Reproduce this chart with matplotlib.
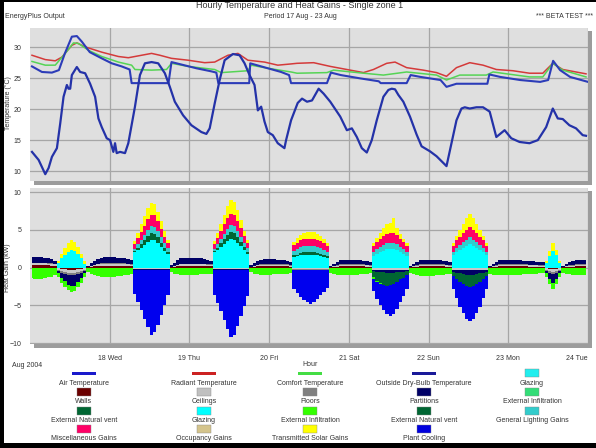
import numpy as np
import matplotlib
matplotlib.use("Agg")
import matplotlib.pyplot as plt
from matplotlib.patches import Rectangle

plt.rcParams['font.family'] = ['Liberation Sans', 'DejaVu Sans']

# ---------------- data: top panel (hour of week, value) ----------------
air_temp = [(0.6,26.9),(3.6,26.0),(6.6,25.9),(8.7,26.3),(10.5,29.0),(12.6,31.7),(14.1,31.8),(15.6,30.9),
            (18.0,29.2),(21.6,28.2),(24.6,27.4),(27.6,26.9),(30.0,26.4),(30.6,24.2),(41.7,24.2),(42.6,27.6),
            (45.6,27.2),(50.1,26.6),(54.6,26.1),(56.1,25.9),(56.7,24.2),(66.0,24.2),(66.3,27.4),(69.6,26.9),
            (75.6,26.0),(78.0,25.5),(78.6,24.2),(89.4,24.2),(90.6,25.9),(93.6,25.5),(99.6,24.95),(105.0,24.5),
            (105.6,24.2),(113.4,24.2),(114.6,25.5),(117.6,25.2),(123.6,24.7),(125.4,23.6),(128.4,24.1),
            (137.7,24.1),(138.3,25.6),(141.6,25.2),(147.6,24.7),(153.6,24.4),(156.0,24.7),(157.5,27.8),
            (159.6,26.3),(162.6,25.2),(168.0,24.4)]
radiant_temp = [(0.6,28.7),(4.6,28.0),(7.6,27.8),(9.6,28.4),(12.6,30.3),(14.1,30.7),(16.6,30.05),(21.6,29.2),
                (26.6,28.5),(29.6,28.3),(33.6,28.7),(36.6,29.0),(39.1,28.7),(42.6,28.2),(47.6,27.9),(52.6,27.5),
                (55.6,27.6),(59.6,28.7),(62.6,29.0),(65.6,27.9),(70.6,27.6),(74.6,27.1),(78.6,27.3),(80.4,27.4),
                (85.4,27.5),(90.4,26.9),(95.4,26.4),(100.4,25.9),(103.4,26.4),(107.4,27.4),(109.9,27.6),
                (113.4,26.7),(118.4,26.3),(122.4,25.9),(125.4,25.3),(128.4,26.7),(132.4,27.5),(136.4,27.1),
                (140.4,26.4),(145.4,26.2),(150.4,25.8),(154.4,25.8),(157.4,27.4),(160.4,26.4),(167.4,25.7)]
comfort_temp = [(0.6,27.7),(4.6,27.1),(7.6,27.1),(10.6,29.0),(13.1,30.7),(14.6,30.6),(17.6,29.5),(21.6,28.5),
                (26.6,27.6),(30.6,27.1),(31.6,26.4),(36.6,26.3),(41.1,26.4),(42.6,27.4),(47.6,26.9),(55.6,26.4),
                (57.6,25.9),(65.6,26.2),(66.6,27.1),(71.6,26.6),(78.6,26.0),(80.4,25.8),(89.4,25.9),(91.4,26.3),
                (100.4,25.8),(106.4,25.5),(113.4,26.0),(122.4,25.5),(125.4,24.7),(129.4,25.5),(137.4,25.5),
                (139.4,26.0),(150.4,25.2),(154.4,25.2),(157.4,27.4),(160.4,26.3),(167.4,25.2)]
outdoor_temp = [(0.6,13.1),(2.6,11.8),(4.6,9.5),(5.6,10.5),(6.6,12.3),(8.1,13.7),(9.1,17.7),(10.1,22.0),
                (11.1,23.9),(11.6,23.3),(12.1,23.3),(12.6,25.5),(14.1,26.8),(15.1,26.0),(16.6,25.8),(18.1,24.1),
                (19.6,22.0),(20.6,18.5),(21.6,17.1),(23.1,15.3),(24.1,15.0),(25.1,13.1),(25.6,14.5),(26.1,12.9),
                (27.1,13.1),(28.6,12.9),(29.6,14.5),(31.6,20.4),(33.1,25.5),(34.6,27.4),(36.6,27.6),(38.6,27.4),
                (40.6,25.8),(42.1,23.6),(43.6,21.2),(46.1,19.0),(48.6,17.4),(51.6,16.3),(53.1,16.0),(54.1,16.9),
                (55.6,20.9),(57.1,24.7),(58.6,27.9),(61.1,28.9),(63.1,28.7),(64.6,27.4),(66.1,25.5),(67.6,23.9),
                (68.6,19.8),(69.6,20.4),(70.6,18.0),(71.6,16.3),(73.1,15.8),(74.6,14.5),(76.6,13.7),(77.1,15.0),
                (78.6,18.2),(80.6,21.0),(81.9,21.7),(83.4,21.2),(84.9,21.4),(86.9,23.3),(88.4,22.5),(90.4,21.2),
                (93.4,18.8),(95.4,16.6),(96.9,16.9),(98.4,15.5),(99.9,13.7),(101.4,13.0),(102.9,15.0),(104.4,18.2),
                (106.4,22.0),(107.9,23.1),(108.9,23.3),(109.9,23.2),(110.9,22.3),(112.4,21.2),(114.4,18.8),
                (116.4,15.9),(117.9,14.0),(120.4,13.2),(122.4,12.4),(125.4,10.8),(126.9,14.5),(128.4,18.2),
                (129.9,20.1),(130.9,20.3),(132.4,20.1),(134.4,20.3),(136.4,20.3),(138.4,19.6),(140.4,15.5),
                (142.9,16.6),(144.9,15.3),(147.4,14.7),(150.4,14.5),(152.9,15.0),(155.4,17.1),(157.4,20.1),
                (158.9,18.5),(160.4,18.4),(162.4,17.4),(164.4,16.9),(166.4,15.8),(167.4,15.7)]

# ---------------- data: bottom panel, hourly kW, one row per day (17..23 Aug) ----------------
walls = [
 [0.30,0.30,0.30,0.30,0.30,0.28,0.25,0.20,-0.10,-0.20,-0.25,-0.30,-0.30,-0.30,-0.25,-0.20,-0.10,0.05,0.10,0.15,0.20,0.25,0.25,0.25],
 [0.25,0.25,0.25,0.25,0.22,0.20,0.18,0,0,0,0,0,0,0,0,0,0,0,0.05,0.10,0.15,0.20,0.20,0.20],
 [0.20,0.20,0.20,0.20,0.20,0.18,0.15,0,0,0,0,0,0,0,0,0,0,0,0.05,0.10,0.15,0.18,0.18,0.18],
 [0.18,0.18,0.18,0.18,0.15,0.15,0.12,0,0,0,0,0,0,0,0,0,0,0,0.05,0.08,0.12,0.15,0.15,0.15],
 [0.15,0.15,0.15,0.15,0.15,0.12,0.12,0,0,0,0,0,0,0,0,0,0,0,0.05,0.08,0.12,0.15,0.15,0.15],
 [0.15,0.15,0.15,0.15,0.15,0.12,0.12,0,0,0,0,0,0,0,0,0,0,0,0.05,0.08,0.12,0.15,0.15,0.15],
 [0.15,0.15,0.15,0.15,0.15,0.15,0.12,0.12,0.12,0.10,0.08,-0.10,-0.20,-0.25,-0.20,-0.10,0.05,0.08,0.10,0.12,0.15,0.15,0.15,0.15]]
ceilings = [
 [0.25,0.25,0.25,0.25,0.25,0.25,0.22,0.20,-0.20,-0.30,-0.35,-0.40,-0.40,-0.40,-0.35,-0.30,-0.20,0.05,0.10,0.15,0.20,0.25,0.25,0.25],
 [0.25,0.25,0.25,0.25,0.25,0.22,0.20,-0.15,-0.15,-0.15,-0.15,-0.15,-0.15,-0.15,-0.15,-0.15,-0.15,-0.15,0.05,0.10,0.15,0.20,0.20,0.20],
 [0.20,0.20,0.20,0.20,0.20,0.18,0.15,-0.15,-0.15,-0.15,-0.15,-0.15,-0.15,-0.15,-0.15,-0.15,-0.15,-0.15,0.05,0.10,0.15,0.18,0.18,0.18],
 [0.15,0.15,0.15,0.15,0.15,0.15,0.12,-0.20,-0.20,-0.20,-0.20,-0.20,-0.20,-0.20,-0.20,-0.20,-0.20,-0.20,0.05,0.08,0.12,0.15,0.15,0.15],
 [0.15,0.15,0.15,0.15,0.15,0.15,0.12,-0.30,-0.30,-0.30,-0.30,-0.30,-0.30,-0.30,-0.30,-0.30,-0.30,-0.30,0.05,0.08,0.12,0.15,0.15,0.15],
 [0.15,0.15,0.15,0.15,0.15,0.15,0.12,-0.30,-0.30,-0.30,-0.30,-0.30,-0.30,-0.30,-0.30,-0.30,-0.30,-0.30,0.05,0.08,0.12,0.15,0.15,0.15],
 [0.15,0.15,0.15,0.15,0.15,0.15,0.15,0.15,0.15,0.15,0.15,-0.20,-0.30,-0.35,-0.30,-0.20,0.05,0.08,0.10,0.12,0.15,0.15,0.15,0.15]]
floors = [
 [0.10,0.10,0.10,0.10,0.10,0.10,0.10,0.10,-0.10,-0.20,-0.25,-0.30,-0.30,-0.30,-0.25,-0.20,-0.10,0.02,0.05,0.08,0.10,0.10,0.10,0.10],
 [0.10,0.10,0.10,0.10,0.10,0.10,0.10,-0.08,-0.08,-0.08,-0.08,-0.08,-0.08,-0.08,-0.08,-0.08,-0.08,-0.08,0.02,0.05,0.08,0.10,0.10,0.10],
 [0.10,0.10,0.10,0.10,0.10,0.10,0.10,-0.08,-0.08,-0.08,-0.08,-0.08,-0.08,-0.08,-0.08,-0.08,-0.08,-0.08,0.02,0.05,0.08,0.10,0.10,0.10],
 [0.10,0.10,0.10,0.10,0.10,0.10,0.10,-0.08,-0.08,-0.08,-0.08,-0.08,-0.08,-0.08,-0.08,-0.08,-0.08,-0.08,0.02,0.05,0.08,0.10,0.10,0.10],
 [0.10,0.10,0.10,0.10,0.10,0.10,0.10,-0.08,-0.08,-0.08,-0.08,-0.08,-0.08,-0.08,-0.08,-0.08,-0.08,-0.08,0.02,0.05,0.08,0.10,0.10,0.10],
 [0.10,0.10,0.10,0.10,0.10,0.10,0.10,-0.08,-0.08,-0.08,-0.08,-0.08,-0.08,-0.08,-0.08,-0.08,-0.08,-0.08,0.02,0.05,0.08,0.10,0.10,0.10],
 [0.10,0.10,0.10,0.10,0.10,0.10,0.10,0.10,0.10,0.10,0.10,-0.10,-0.20,-0.25,-0.20,-0.10,0.02,0.05,0.08,0.10,0.10,0.10,0.10,0.10]]
partitions = [
 [0.75,0.75,0.72,0.70,0.65,0.60,0.50,0.35,-0.30,-0.70,-1.00,-1.30,-1.50,-1.40,-1.10,-0.70,-0.30,0.10,0.30,0.45,0.60,0.70,0.75,0.75],
 [0.75,0.75,0.72,0.70,0.65,0.60,0.50,-0.05,-0.05,-0.05,-0.05,-0.05,-0.05,-0.05,-0.05,-0.05,-0.05,-0.05,0.15,0.35,0.55,0.70,0.75,0.75],
 [0.75,0.75,0.72,0.70,0.65,0.60,0.50,-0.05,-0.05,-0.05,-0.05,-0.05,-0.05,-0.05,-0.05,-0.05,-0.05,-0.05,0.15,0.35,0.50,0.60,0.65,0.65],
 [0.65,0.65,0.62,0.60,0.55,0.50,0.40,-0.10,-0.10,-0.10,-0.10,-0.10,-0.10,-0.10,-0.10,-0.10,-0.10,-0.10,0.10,0.30,0.45,0.55,0.60,0.60],
 [0.60,0.60,0.58,0.55,0.50,0.45,0.40,-0.10,-0.15,-0.20,-0.25,-0.30,-0.30,-0.30,-0.25,-0.20,-0.15,-0.10,0.10,0.30,0.45,0.55,0.60,0.60],
 [0.60,0.60,0.58,0.55,0.50,0.45,0.40,-0.20,-0.30,-0.40,-0.50,-0.60,-0.60,-0.60,-0.50,-0.40,-0.30,-0.20,0.10,0.30,0.45,0.55,0.60,0.60],
 [0.60,0.60,0.58,0.55,0.50,0.50,0.45,0.45,0.40,0.40,0.35,-0.30,-0.80,-1.20,-0.80,-0.30,0.10,0.30,0.45,0.55,0.60,0.60,0.60,0.60]]
glazing = [
 [0,0,0,0,0,0,0,0,0.6,1.2,1.7,2.1,2.3,2.2,1.8,1.2,0.5,0,0,0,0,0,0,0],
 [0,0,0,0,0,0,0,2.0,2.3,2.6,3.0,3.4,3.7,3.6,3.2,2.7,2.2,1.8,0,0,0,0,0,0],
 [0,0,0,0,0,0,0,2.0,2.3,2.7,3.1,3.5,3.8,3.7,3.3,2.8,2.3,1.8,0,0,0,0,0,0],
 [0,0,0,0,0,0,0,1.4,1.5,1.6,1.7,1.7,1.7,1.7,1.6,1.5,1.4,1.3,0,0,0,0,0,0],
 [0,0,0,0,0,0,0,1.5,1.8,2.0,2.2,2.4,2.5,2.5,2.3,2.0,1.8,1.5,0,0,0,0,0,0],
 [0,0,0,0,0,0,0,1.6,2.0,2.3,2.6,2.9,3.1,2.9,2.6,2.3,2.0,1.6,0,0,0,0,0,0],
 [0,0,0,0,0,0,0,0,0,0,0,0.6,1.5,2.2,1.6,0.6,0,0,0,0,0,0,0,0]]
natural_vent = [
 [0,0,0,0,0,0,0,0,0,0,0,0,0,0,0,0,0,0,0,0,0,0,0,0],
 [0,0,0,0,0,0,0,0.2,0.3,0.5,0.6,0.8,0.9,0.9,0.8,0.6,0.4,0.3,0,0,0,0,0,0],
 [0,0,0,0,0,0,0,0.2,0.3,0.5,0.7,0.8,0.9,0.9,0.8,0.6,0.4,0.3,0,0,0,0,0,0],
 [0,0,0,0,0,0,0,0.2,0.2,0.3,0.3,0.3,0.3,0.3,0.3,0.3,0.2,0.2,0,0,0,0,0,0],
 [0,0,0,0,0,0,0,-0.8,-1.2,-1.5,-1.7,-1.8,-1.7,-1.5,-1.3,-1.0,-0.8,-0.5,0,0,0,0,0,0],
 [0,0,0,0,0,0,0,-0.5,-0.8,-1.1,-1.3,-1.5,-1.6,-1.5,-1.3,-1.1,-0.8,-0.5,0,0,0,0,0,0],
 [0,0,0,0,0,0,0,0,0,0,0,0,0,0,0,0,0,0,0,0,0,0,0,0]]
lighting = [
 [0,0,0,0,0,0,0,0,0,0,0,0,0,0,0,0,0,0,0,0,0,0,0,0],
 [0,0,0,0,0,0,0,0.3,0.5,0.6,0.7,0.8,0.9,0.9,0.8,0.7,0.6,0.5,0,0,0,0,0,0],
 [0,0,0,0,0,0,0,0.3,0.5,0.6,0.7,0.8,0.9,0.9,0.8,0.7,0.6,0.5,0,0,0,0,0,0],
 [0,0,0,0,0,0,0,0.6,0.7,0.8,0.8,0.8,0.8,0.8,0.8,0.8,0.7,0.6,0,0,0,0,0,0],
 [0,0,0,0,0,0,0,0.5,0.6,0.7,0.8,0.8,0.8,0.8,0.8,0.7,0.6,0.5,0,0,0,0,0,0],
 [0,0,0,0,0,0,0,0.5,0.6,0.7,0.8,0.8,0.9,0.8,0.8,0.7,0.6,0.5,0,0,0,0,0,0],
 [0,0,0,0,0,0,0,0,0,0,0,0,0,0,0,0,0,0,0,0,0,0,0,0]]
misc_gains = [
 [0,0,0,0,0,0,0,0,0,0,0,0,0,0,0,0,0,0,0,0,0,0,0,0],
 [0,0,0,0,0,0,0,0.6,0.8,1.0,1.2,1.4,1.5,1.5,1.3,1.1,0.9,0.7,0,0,0,0,0,0],
 [0,0,0,0,0,0,0,0.6,0.8,1.0,1.2,1.4,1.5,1.5,1.3,1.1,0.9,0.7,0,0,0,0,0,0],
 [0,0,0,0,0,0,0,0.8,0.9,0.9,1.0,1.0,1.0,1.0,1.0,0.9,0.9,0.8,0,0,0,0,0,0],
 [0,0,0,0,0,0,0,0.9,1.0,1.1,1.2,1.3,1.3,1.3,1.2,1.1,1.0,0.9,0,0,0,0,0,0],
 [0,0,0,0,0,0,0,0.8,1.0,1.1,1.2,1.3,1.4,1.3,1.2,1.1,1.0,0.8,0,0,0,0,0,0],
 [0,0,0,0,0,0,0,0,0,0,0,0,0,0,0,0,0,0,0,0,0,0,0,0]]
solar = [
 [0,0,0,0,0,0,0,0,0.3,0.6,0.9,1.1,1.3,1.2,0.9,0.6,0.3,0,0,0,0,0,0,0],
 [0,0,0,0,0,0,0,0.4,0.7,1.0,1.3,1.5,1.6,1.5,1.3,1.0,0.7,0.4,0,0,0,0,0,0],
 [0,0,0,0,0,0,0,0.4,0.7,1.0,1.3,1.6,1.8,1.7,1.4,1.1,0.7,0.4,0,0,0,0,0,0],
 [0,0,0,0,0,0,0,0.4,0.6,0.7,0.8,0.9,0.9,0.9,0.8,0.7,0.6,0.4,0,0,0,0,0,0],
 [0,0,0,0,0,0,0,0.3,0.5,0.8,1.0,1.2,1.3,2.0,0.9,0.6,0.4,0.3,0,0,0,0,0,0],
 [0,0,0,0,0,0,0,0.4,0.6,0.9,1.2,1.5,1.7,1.5,1.2,0.9,0.6,0.4,0,0,0,0,0,0],
 [0,0,0,0,0,0,0,0,0,0,0,0.3,0.7,1.1,0.7,0.3,0,0,0,0,0,0,0,0]]
infiltration = [
 [-1.4,-1.5,-1.5,-1.5,-1.4,-1.3,-1.2,-1.0,-0.5,-0.6,-0.7,-0.7,-0.7,-0.7,-0.6,-0.6,-0.5,-0.6,-0.8,-1.0,-1.1,-1.2,-1.2,-1.2],
 [-1.2,-1.2,-1.1,-1.1,-1.0,-1.0,-0.9,0,0,0,0,0,0,0,0,0,0,0,-0.6,-0.8,-0.9,-1.0,-1.0,-1.0],
 [-1.0,-1.0,-1.0,-0.9,-0.9,-0.9,-0.8,0,0,0,0,0,0,0,0,0,0,0,-0.6,-0.8,-0.9,-1.0,-1.0,-1.0],
 [-1.0,-0.9,-0.9,-0.9,-0.8,-0.8,-0.7,0,0,0,0,0,0,0,0,0,0,0,-0.7,-0.9,-1.0,-1.0,-1.0,-1.0],
 [-1.0,-1.0,-1.0,-0.9,-0.9,-0.8,-0.7,-0.3,-0.2,-0.1,0,0,0,0,0,0,0,0,-0.7,-0.9,-1.0,-1.1,-1.1,-1.1],
 [-1.1,-1.1,-1.0,-1.0,-1.0,-0.9,-0.8,0,0,0,0,0,0,0,0,0,0,0,-0.8,-1.0,-1.0,-1.0,-1.0,-1.0],
 [-1.0,-1.0,-1.0,-1.0,-0.9,-0.9,-0.9,-0.8,-0.8,-0.7,-0.7,-0.6,-0.7,-0.8,-0.7,-0.6,-0.7,-0.8,-0.9,-1.0,-1.0,-1.0,-1.0,-1.0]]
plant_cooling = [
 [0,0,0,0,0,0,0,0,0,0,0,0,0,0,0,0,0,0,0,0,0,0,0,0],
 [0,0,0,0,0,0,0,-3.2,-4.3,-5.4,-6.5,-7.6,-8.6,-8.3,-7.3,-6.0,-4.7,-3.4,0,0,0,0,0,0],
 [0,0,0,0,0,0,0,-3.3,-4.4,-5.5,-6.7,-7.8,-8.9,-8.6,-7.5,-6.2,-4.8,-3.5,0,0,0,0,0,0],
 [0,0,0,0,0,0,0,-2.5,-3.0,-3.5,-3.9,-4.2,-4.4,-4.2,-3.8,-3.3,-2.8,-2.3,0,0,0,0,0,0],
 [0,0,0,0,0,0,0,-1.5,-2.2,-2.8,-3.3,-3.7,-4.0,-4.0,-3.6,-3.0,-2.5,-1.8,0,0,0,0,0,0],
 [0,0,0,0,0,0,0,-1.8,-2.6,-3.3,-3.9,-4.3,-4.5,-4.3,-3.9,-3.3,-2.6,-1.8,0,0,0,0,0,0],
 [0,0,0,0,0,0,0,0,0,0,0,0,0,0,0,0,0,0,0,0,0,0,0,0]]

day_labels = ["18 Wed", "19 Thu", "20 Fri", "21 Sat", "22 Sun", "23 Mon", "24 Tue"]
temp_ticks = [10, 15, 20, 25, 30]
gain_ticks = [-10, -5, 0, 5, 10]

# ---------------- figure ----------------
W, H = 596, 448
fig = plt.figure(figsize=(W / 100, H / 100), dpi=100, facecolor='white')

def fx(px):
    return px / W

def fy(py):
    return 1 - py / H

TXT = '#333333'
BG = '#dfdfdf'
GRID = '#a6a6a6'
SHADOW = '#9c9c9c'

ax1 = fig.add_axes([fx(30), fy(181), fx(588) - fx(30), fy(28) - fy(181)])
ax2 = fig.add_axes([fx(30), fy(344), fx(588) - fx(30), fy(188) - fy(344)])

# 3-D shadow bars
for top, bot in [(31, 181), (191, 344)]:
    fig.add_artist(Rectangle((fx(34), fy(bot + 4)), fx(592) - fx(34), fy(bot) - fy(bot + 4),
                             transform=fig.transFigure, color=SHADOW, lw=0))
    fig.add_artist(Rectangle((fx(588), fy(bot + 4)), fx(592) - fx(588), fy(top) - fy(bot + 4),
                             transform=fig.transFigure, color=SHADOW, lw=0))

for ax in (ax1, ax2):
    ax.set_facecolor(BG)
    for s in ax.spines.values():
        s.set_visible(False)
    ax.set_axisbelow(True)
    ax.set_xlim(0, 7)
    ax.set_xticks(range(1, 8))
    ax.grid(True, color=GRID, lw=0.9)
    ax.tick_params(length=0, labelsize=5, labelcolor=TXT, pad=6)

# top panel lines
def series(pairs):
    a = np.array(pairs, dtype=float)
    return a[:, 0] / 24.0, a[:, 1]

ax1.plot(*series(radiant_temp), color='#d43a3a', lw=1.1)
ax1.plot(*series(comfort_temp), color='#55d455', lw=1.1)
ax1.plot(*series(air_temp), color='#2c3cb8', lw=1.5)
ax1.plot(*series(outdoor_temp), color='#2432a8', lw=1.6)
ax1.set_ylim(8.4, 33.1)
ax1.set_yticks(temp_ticks)
ax1.set_xticklabels([])

# bottom panel stacked areas
hours = np.arange(168)
xd = (hours + 0.5) / 24.0

def flat(rows):
    return np.array(rows, dtype=float).reshape(-1)

pos_layers = [(walls, '#6b0000'), (ceilings, '#c8c8c8'), (floors, '#808080'), (partitions, '#000066'),
              (glazing, '#00ffff'), (natural_vent, '#006633'), (lighting, '#33cccc'),
              (misc_gains, '#ff0066'), (solar, '#ffff00')]
neg_layers = [(walls, '#6b0000'), (ceilings, '#c8c8c8'), (floors, '#808080'), (partitions, '#000066'),
              (natural_vent, '#006633'), (infiltration, '#33ff00'), (plant_cooling, '#0000ee')]

base = np.zeros(168)
for rows, col in pos_layers:
    v = np.clip(flat(rows), 0, None)
    ax2.fill_between(xd, base, base + v, step='mid', color=col, lw=0)
    base = base + v
base = np.zeros(168)
for rows, col in neg_layers:
    v = np.clip(flat(rows), None, 0)
    ax2.fill_between(xd, base, base + v, step='mid', color=col, lw=0)
    base = base + v

ax2.set_ylim(-10.13, 10.53)
ax2.set_yticks(gain_ticks)
ax2.set_xticklabels(day_labels)
ax2.tick_params(axis='x', pad=8)
last = ax2.get_xticklabels()[-1]
last.set_horizontalalignment('right')
last.set_x(6.99)

# texts
fig.text(fx(300), fy(6), "Hourly Temperature and Heat Gains - Single zone 1", ha='center', va='center',
         fontsize=6.5, color=TXT)
fig.text(fx(300), fy(16), "Period 17 Aug - 23 Aug", ha='center', va='center', fontsize=5, color=TXT)
fig.text(fx(5), fy(17), "EnergyPlus Output", ha='left', va='center', fontsize=5, color=TXT)
fig.text(fx(593), fy(17), "*** BETA TEST ***", ha='right', va='center', fontsize=5, color=TXT)
fig.text(fx(8), fy(103), "Temperature (\u00b0C)", rotation=90, ha='center', va='center', fontsize=5, color=TXT)
fig.text(fx(8), fy(268), "Heat Gain (kW)", rotation=90, ha='center', va='center', fontsize=5, color=TXT)
fig.text(fx(12), fy(365), "Aug 2004", ha='left', va='center', fontsize=5, color=TXT)
fig.text(fx(310), fy(364), "Hour", ha='center', va='center', fontsize=5, color=TXT)

# legend
legend_rows = [
    [("line", "#1a1acc", "Air Temperature"), ("line", "#cc2222", "Radiant Temperature"),
     ("line", "#44dd44", "Comfort Temperature"), ("line", "#1a1a99", "Outside Dry-Bulb Temperature"),
     ("patch", "#22eeee", "Glazing")],
    [("patch", "#6b0000", "Walls"), ("patch", "#c0c0c0", "Ceilings"), ("patch", "#808080", "Floors"),
     ("patch", "#000066", "Partitions"), ("patch", "#33dd77", "External Infiltration")],
    [("patch", "#006633", "External Natural vent"), ("patch", "#00ffff", "Glazing"),
     ("patch", "#33ff00", "External Infiltration"), ("patch", "#006633", "External Natural vent"),
     ("patch", "#33cccc", "General Lighting Gains")],
    [("patch", "#ff0066", "Miscellaneous Gains"), ("patch", "#d4c48c", "Occupancy Gains"),
     ("patch", "#ffff00", "Transmitted Solar Gains"), ("patch", "#0000dd", "Plant Cooling")],
]
col_x = [84, 204, 310, 424, 532]
swatch_y = [373, 392, 411, 429]
label_y = [383, 401, 420, 438]
for r, row in enumerate(legend_rows):
    for c, (kind, col, lab) in enumerate(row):
        cx = col_x[c]
        if kind == "line":
            fig.add_artist(Rectangle((fx(cx - 12), fy(swatch_y[r] + 1.5)), fx(24), 3 / H,
                                     transform=fig.transFigure, color=col, lw=0))
        else:
            fig.add_artist(Rectangle((fx(cx - 7), fy(swatch_y[r] + 4)), fx(14), 8 / H,
                                     transform=fig.transFigure, facecolor=col, edgecolor='#888888', lw=0.3))
        fig.text(fx(cx), fy(label_y[r]), lab, ha='center', va='center', fontsize=5, color=TXT)

# black frame edges
fig.add_artist(Rectangle((0, 0), fx(4), 1, transform=fig.transFigure, color='black', lw=0))
fig.add_artist(Rectangle((0, fy(2)), 1, 2 / H, transform=fig.transFigure, color='black', lw=0))
fig.add_artist(Rectangle((0, 0), 1, 5 / H, transform=fig.transFigure, color='black', lw=0))

fig.savefig("out.png", dpi=100, facecolor='white')
